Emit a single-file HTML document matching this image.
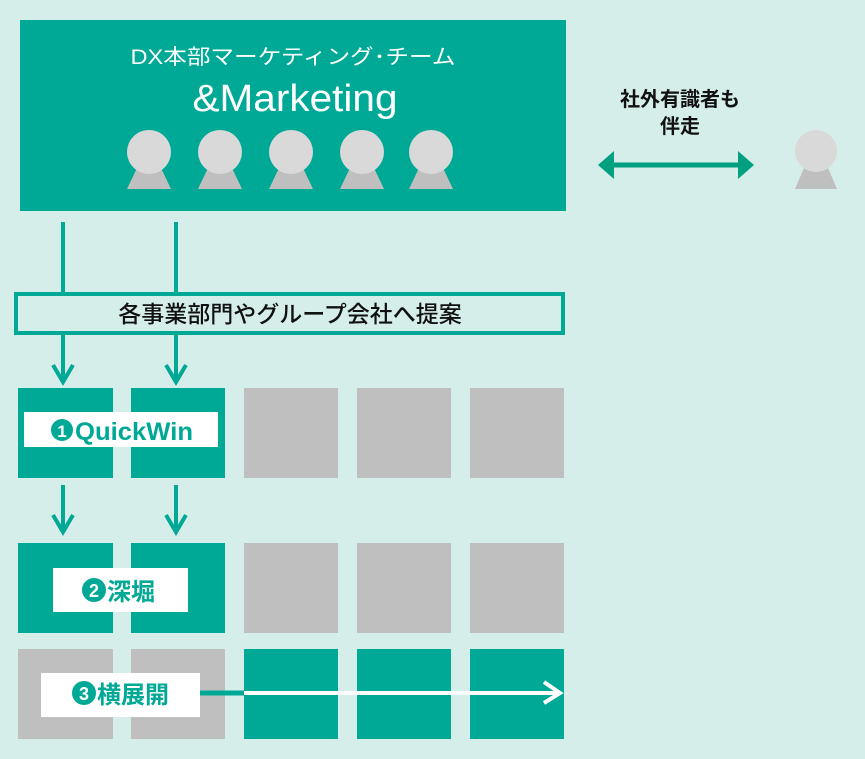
<!DOCTYPE html>
<html><head><meta charset="utf-8"><style>
html,body{margin:0;padding:0;background:#d5eeea;}
svg{display:block;}
text{font-family:"Liberation Sans","Noto Sans CJK JP",sans-serif;}
</style></head><body>
<svg width="865" height="759" viewBox="0 0 865 759" xmlns="http://www.w3.org/2000/svg">
<rect width="865" height="759" fill="#d5eeea"/>
<rect x="20" y="20" width="546" height="191" fill="#00a896"/>
<text x="293" y="64" font-size="21" fill="#fff" text-anchor="middle" textLength="325" lengthAdjust="spacingAndGlyphs">DX本部マーケティング･チーム</text>
<text x="295" y="111" font-size="38" fill="#fff" text-anchor="middle" textLength="205" lengthAdjust="spacingAndGlyphs">&amp;Marketing</text>
<g fill="#bfbfbf">
<polygon points="137,168 161,168 171,189 127,189"/>
<polygon points="208,168 232,168 242,189 198,189"/>
<polygon points="279,168 303,168 313,189 269,189"/>
<polygon points="350,168 374,168 384,189 340,189"/>
<polygon points="419,168 443,168 453,189 409,189"/>
<polygon points="804,168 828,168 837,189 795,189"/>
</g>
<g fill="#d9d9d9">
<circle cx="149" cy="152" r="22"/><circle cx="220" cy="152" r="22"/><circle cx="291" cy="152" r="22"/><circle cx="362" cy="152" r="22"/><circle cx="431" cy="152" r="22"/><circle cx="816" cy="151" r="21"/>
</g>
<text x="680" y="106" font-size="20" font-weight="bold" fill="#111" text-anchor="middle">社外有識者も</text>
<text x="680" y="133" font-size="20" font-weight="bold" fill="#111" text-anchor="middle">伴走</text>
<line x1="610" y1="165" x2="742" y2="165" stroke="#00a080" stroke-width="5"/>
<polygon points="598,165 614,151 614,179" fill="#00a080"/>
<polygon points="754,165 738,151 738,179" fill="#00a080"/>
<g stroke="#00a896" stroke-width="4" fill="none">
<line x1="63" y1="222" x2="63" y2="293"/><line x1="176" y1="222" x2="176" y2="293"/>
<line x1="63" y1="335" x2="63" y2="382"/><line x1="176" y1="335" x2="176" y2="382"/>
<polyline points="53,365 63,382 73,365"/><polyline points="166,365 176,382 186,365"/>
<line x1="63" y1="485" x2="63" y2="532"/><line x1="176" y1="485" x2="176" y2="532"/>
<polyline points="53,515 63,532 73,515"/><polyline points="166,515 176,532 186,515"/>
</g>
<rect x="16" y="294" width="547" height="39" fill="#d5eeea" stroke="#00a896" stroke-width="4"/>
<text x="290" y="322" font-size="23" font-weight="500" fill="#111" text-anchor="middle">各事業部門やグループ会社へ提案</text>
<g fill="#00a896">
<rect x="18" y="388" width="95" height="90"/><rect x="131" y="388" width="94" height="90"/>
<rect x="18" y="543" width="95" height="90"/><rect x="131" y="543" width="94" height="90"/>
<rect x="244" y="649" width="94" height="90"/><rect x="357" y="649" width="94" height="90"/><rect x="470" y="649" width="94" height="90"/>
</g>
<g fill="#bfbfbf">
<rect x="244" y="388" width="94" height="90"/><rect x="357" y="388" width="94" height="90"/><rect x="470" y="388" width="94" height="90"/>
<rect x="244" y="543" width="94" height="90"/><rect x="357" y="543" width="94" height="90"/><rect x="470" y="543" width="94" height="90"/>
<rect x="18" y="649" width="95" height="90"/><rect x="131" y="649" width="94" height="90"/>
</g>
<rect x="24" y="412" width="194" height="35" fill="#fff"/>
<rect x="53" y="568" width="135" height="44" fill="#fff"/>
<rect x="41" y="673" width="159" height="44" fill="#fff"/>
<line x1="200" y1="693" x2="244" y2="693" stroke="#00a896" stroke-width="5"/>
<line x1="244" y1="693" x2="560" y2="693" stroke="#fff" stroke-width="4"/>
<polyline points="544,682 560,693 544,703" fill="none" stroke="#fff" stroke-width="4"/>
<g fill="#00a896" font-weight="bold">
<circle cx="62" cy="430" r="11"/><text x="62" y="437" font-size="17" fill="#fff" text-anchor="middle">1</text>
<text x="75" y="440" font-size="25" textLength="118" lengthAdjust="spacingAndGlyphs">QuickWin</text>
<circle cx="94" cy="590" r="12"/><text x="94" y="597" font-size="18" fill="#fff" text-anchor="middle">2</text>
<text x="107" y="600" font-size="24">深堀</text>
<circle cx="84" cy="693" r="12"/><text x="84" y="700" font-size="18" fill="#fff" text-anchor="middle">3</text>
<text x="97" y="703" font-size="24">横展開</text>
</g>
</svg>
</body></html>
